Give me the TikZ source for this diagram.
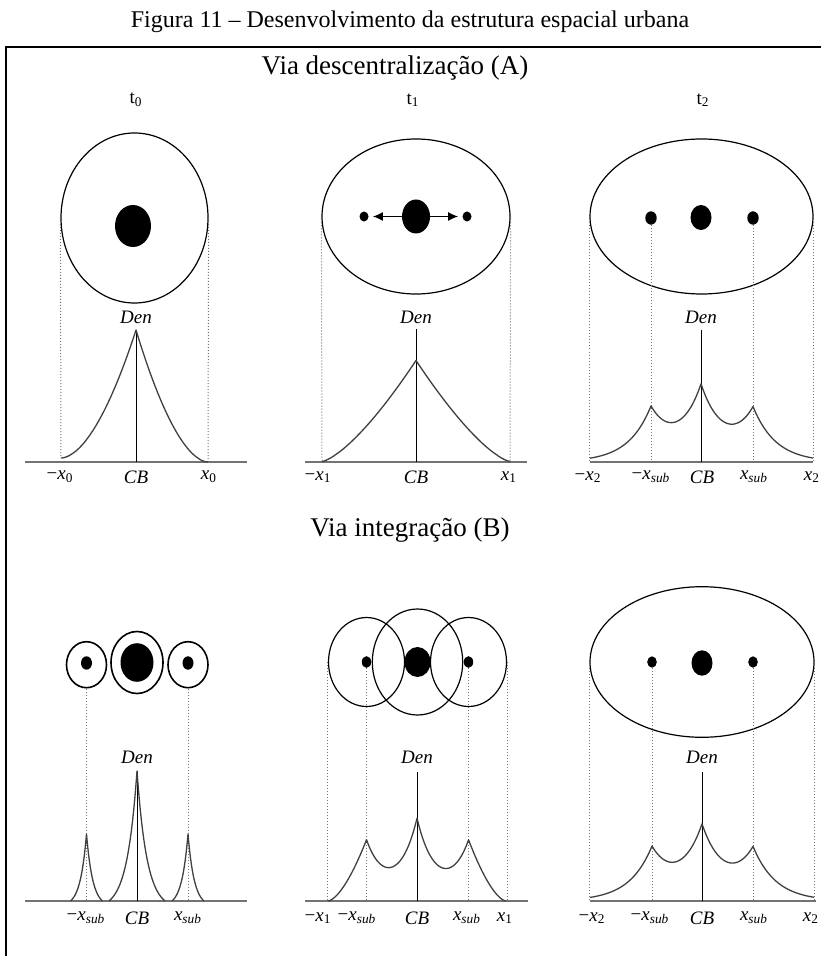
\documentclass[tikz,border=0pt]{standalone}
\usepackage{fontspec}
\setmainfont{Liberation Serif}
\usetikzlibrary{
    shapes.geometric,
    arrows.meta,
    positioning
}
\newcommand{\xsub}[1]{\textit{x}\textsubscript{#1}}

\begin{document}
\begin{tikzpicture}[x=0.5pt, y=-0.5pt,
    ring/.style={ellipse, draw, line width=0.6pt, inner sep=0pt},
    blob/.style={ellipse, fill, inner sep=0pt},
    proj/.style={densely dotted, line width=0.5pt, black!55},
    axisline/.style={line width=1pt, black!55},
    spine/.style={line width=0.5pt},
    dens/.style={line width=0.65pt, black!75, line join=round},
    push/.style={-{Latex[length=5pt,width=4.5pt]}, line width=0.6pt, shorten >=2pt},
    lab/.style={font=\fontsize{9.5}{11}\selectfont, inner sep=0pt},
    ttl/.style={font=\fontsize{13.5}{16}\selectfont, inner sep=0pt},
    declare function={
        pw(\uu,\pp)=exp(\pp*ln(max(\uu,0.0001)));
        cs(\dd,\kk)=exp(-\kk*abs(\dd));
        sp(\dd,\hh,\kk,\ww)=\hh*(exp(-\kk*abs(\dd))-exp(-\kk*\ww))/(1-exp(-\kk*\ww));
        gA(\vv)=68*cs(\vv-701,0.044)+48*cs(\vv-651,0.044)+48*cs(\vv-753,0.044);
        gB(\vv)=76*cs(\vv-417,0.055)+56.4*cs(\vv-366.5,0.055)+56.4*cs(\vv-468.5,0.055);
        gC(\vv)=67*cs(\vv-702,0.044)+47*cs(\vv-652,0.044)+47*cs(\vv-753,0.044);
    }]
\useasboundingbox (0,0) rectangle (821,956);
\draw[line width=1.2pt] (6,956) |- (821,47);
\node[font=\fontsize{12}{14}\selectfont, inner sep=0pt] (cap) at (410,22) {Figura 11 – Desenvolvimento da estrutura espacial urbana};
\node[ttl] (ta) at (395,68) {Via descentralização (A)};
\node[ttl] (tb) at (410,530) {Via integração (B)};
\node[lab] (t0) at (136,100) {t\textsubscript{0}};
\node[lab] (t1) at (413,100) {t\textsubscript{1}};
\node[lab] (t2) at (703,100) {t\textsubscript{2}};

\node[ring, minimum width=73.5pt, minimum height=85pt] (a0) at (134.5,218) {};
\node[blob, minimum width=18pt, minimum height=21pt] (c0) at (133,226) {};
\node[lab] (den0) at (136,317) {\textit{Den}};
\coordinate (p0) at (136,330);
\coordinate (o0) at (136,462);
\coordinate (l0) at (61,458);
\coordinate (r0) at (208,462);
\draw[axisline] (25,462) -- (247,462);
\draw[proj] (a0.west) -- (l0) (a0.east) -- (r0);
\draw[spine] (p0) -- (o0);
\draw[dens] plot[domain=61:136, samples=60] (\x,{458-128*pw((\x-61)/75,1.8)})
    -- plot[domain=136:208, samples=60] (\x,{462-132*pw((208-\x)/72,1.8)});
\node[lab] at (60,477) {−\xsub{0}};
\node[lab] at (136,477) {\textit{CB}};
\node[lab] at (209,477) {\xsub{0}};

\node[ring, minimum width=94pt, minimum height=77.5pt] (a1) at (416,216.5) {};
\node[blob, minimum width=14pt, minimum height=17pt] (c1) at (416,216.5) {};
\node[blob, minimum width=4.5pt, minimum height=5pt] (m1) at (364,216.5) {};
\node[blob, minimum width=4.5pt, minimum height=5pt] (n1) at (467,216.5) {};
\draw[push] (c1) -- (m1);
\draw[push] (c1) -- (n1);
\node[lab] (den1) at (416,317) {\textit{Den}};
\coordinate (p1) at (416,329);
\coordinate (o1) at (416,462);
\coordinate (l1) at (322,461.5);
\coordinate (r1) at (510,461.5);
\draw[axisline] (305,462) -- (527,462);
\draw[proj] (a1.west) -- (l1) (a1.east) -- (r1);
\draw[spine] (p1) -- (o1);
\draw[dens] plot[domain=322:416, samples=60] (\x,{461.5-101*pw((\x-322)/94,1.4)})
    -- plot[domain=416:510, samples=60] (\x,{461.5-101*pw((510-\x)/94,1.4)});
\node[lab] at (318,477) {−\xsub{1}};
\node[lab] at (416,477) {\textit{CB}};
\node[lab] at (509,477) {\xsub{1}};

\node[ring, minimum width=111.5pt, minimum height=77.5pt] (a2) at (701.5,216.5) {};
\node[blob, minimum width=10.5pt, minimum height=12.5pt] (c2) at (701,217.5) {};
\node[blob, minimum width=5.7pt, minimum height=6.7pt] (m2) at (651,218) {};
\node[blob, minimum width=5.7pt, minimum height=6.7pt] (n2) at (753,218) {};
\node[lab] (den2) at (701,317) {\textit{Den}};
\coordinate (p2) at (701,330);
\coordinate (o2) at (701,462);
\draw[axisline] (590,462) -- (813,462);
\draw[proj] (a2.west) -- (a2.west |- o2) (a2.east) -- (a2.east |- o2);
\draw[proj] (m2) -- (m2 |- o2) (n2) -- (n2 |- o2);
\draw[spine] (p2) -- (o2);
\draw[dens] plot[domain=590:651, samples=40] (\x,{462-gA(\x)})
    -- plot[domain=651:701, samples=40] (\x,{462-gA(\x)})
    -- plot[domain=701:753, samples=40] (\x,{462-gA(\x)})
    -- plot[domain=753:813, samples=40] (\x,{462-gA(\x)});
\node[lab] at (588,477) {−\xsub{2}};
\node[lab] at (651,477) {−\xsub{\textit{sub}}};
\node[lab] at (702,477) {\textit{CB}};
\node[lab] at (754,477) {\xsub{\textit{sub}}};
\node[lab] at (812,477) {\xsub{2}};

\node[ring, line width=0.8pt, minimum width=26pt, minimum height=31pt] (a3) at (137,662.5) {};
\node[ring, line width=0.8pt, minimum width=20pt, minimum height=23pt] (g3) at (86.5,664.7) {};
\node[ring, line width=0.8pt, minimum width=20pt, minimum height=23pt] (h3) at (188,664.7) {};
\node[blob, minimum width=16.5pt, minimum height=19.3pt] (c3) at (137,662.5) {};
\node[blob, minimum width=5.5pt, minimum height=6.7pt] (m3) at (86.5,663) {};
\node[blob, minimum width=5.5pt, minimum height=6.7pt] (n3) at (188,663) {};
\node[lab] (den3) at (137,757) {\textit{Den}};
\coordinate (p3) at (137,771);
\coordinate (o3) at (137,901);
\draw[axisline] (25,901) -- (247,901);
\draw[proj] (g3.south) -- (g3.south |- o3) (h3.south) -- (h3.south |- o3);
\draw[spine] (p3) -- (o3);
\draw[dens] plot[domain=109:137, samples=40] (\x,{901-sp(\x-137,130,0.1,28)})
    -- plot[domain=137:165, samples=40] (\x,{901-sp(\x-137,130,0.1,28)});
\draw[dens] plot[domain=70.5:86.5, samples=30] (\x,{901-sp(\x-86.5,67,0.16,16)})
    -- plot[domain=86.5:102.5, samples=30] (\x,{901-sp(\x-86.5,67,0.16,16)});
\draw[dens] plot[domain=172:188, samples=30] (\x,{901-sp(\x-188,67,0.16,16)})
    -- plot[domain=188:204, samples=30] (\x,{901-sp(\x-188,67,0.16,16)});
\node[lab] at (86,918) {−\xsub{\textit{sub}}};
\node[lab] at (137,918) {\textit{CB}};
\node[lab] at (188,918) {\xsub{\textit{sub}}};

\node[ring, minimum width=45.2pt, minimum height=53pt] (a4) at (417.5,662) {};
\node[ring, minimum width=38pt, minimum height=44.5pt] (g4) at (366.5,662) {};
\node[ring, minimum width=38pt, minimum height=44.5pt] (h4) at (468.5,662) {};
\node[blob, minimum width=13pt, minimum height=15pt] (c4) at (417.5,662) {};
\node[blob, minimum width=4.7pt, minimum height=5.8pt] (m4) at (366.5,662) {};
\node[blob, minimum width=4.7pt, minimum height=5.8pt] (n4) at (468.5,662) {};
\node[lab] (den4) at (417,757) {\textit{Den}};
\coordinate (p4) at (417,772);
\coordinate (o4) at (417,901);
\draw[axisline] (305,901) -- (528,901);
\draw[proj] (g4.west) -- (g4.west |- o4) (h4.east) -- (h4.east |- o4);
\draw[proj] (m4) -- (m4 |- o4) (n4) -- (n4 |- o4);
\draw[spine] (p4) -- (o4);
\draw[dens] plot[domain=328:366.5, samples=40] (\x,{901-61.3*pw((\x-328)/38.5,1.6)})
    -- plot[domain=366.5:417, samples=40] (\x,{901-gB(\x)})
    -- plot[domain=417:468.5, samples=40] (\x,{901-gB(\x)})
    -- plot[domain=468.5:506, samples=40] (\x,{901-61.3*pw((506-\x)/37.5,1.6)});
\node[lab] at (318,918) {−\xsub{1}};
\node[lab] at (357,918) {−\xsub{\textit{sub}}};
\node[lab] at (417,918) {\textit{CB}};
\node[lab] at (467,918) {\xsub{\textit{sub}}};
\node[lab] at (505,918) {\xsub{1}};

\node[ring, minimum width=112pt, minimum height=75.3pt] (a5) at (702,662) {};
\node[blob, minimum width=10.5pt, minimum height=12.7pt] (c5) at (702,663) {};
\node[blob, minimum width=4.8pt, minimum height=5.7pt] (m5) at (652,662) {};
\node[blob, minimum width=4.8pt, minimum height=5.7pt] (n5) at (753,662) {};
\node[lab] (den5) at (702,757) {\textit{Den}};
\coordinate (p5) at (702,772);
\coordinate (o5) at (702,901);
\draw[axisline] (590,901) -- (816,901);
\draw[proj] (a5.west) -- (a5.west |- o5) (a5.east) -- (a5.east |- o5);
\draw[proj] (m5) -- (m5 |- o5) (n5) -- (n5 |- o5);
\draw[spine] (p5) -- (o5);
\draw[dens] plot[domain=590:652, samples=40] (\x,{901-gC(\x)})
    -- plot[domain=652:702, samples=40] (\x,{901-gC(\x)})
    -- plot[domain=702:753, samples=40] (\x,{901-gC(\x)})
    -- plot[domain=753:814, samples=40] (\x,{901-gC(\x)});
\node[lab] at (592,918) {−\xsub{2}};
\node[lab] at (650,918) {−\xsub{\textit{sub}}};
\node[lab] at (702,918) {\textit{CB}};
\node[lab] at (754,918) {\xsub{\textit{sub}}};
\node[lab] at (811,918) {\xsub{2}};
\end{tikzpicture}
\end{document}
